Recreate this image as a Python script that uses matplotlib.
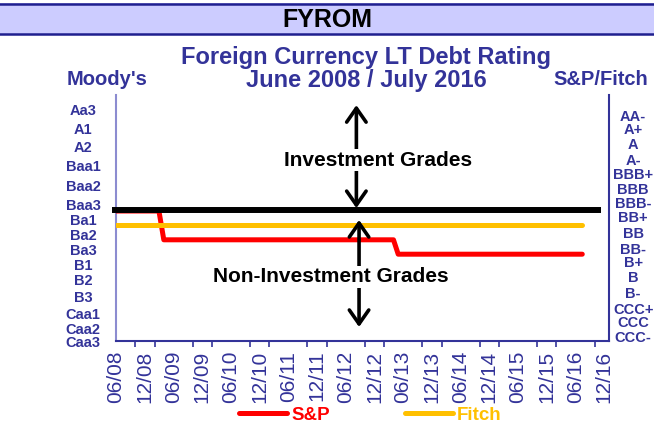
import datetime as dt
import numpy as np
import matplotlib
matplotlib.use("Agg")
import matplotlib.pyplot as plt
import matplotlib.dates as mdates
from matplotlib.lines import Line2D
from matplotlib.patches import Rectangle
from matplotlib.transforms import blended_transform_factory

plt.rcParams['font.family'] = ['Liberation Sans', 'DejaVu Sans']

NAVY = '#333399'

# rating scale (S&P / Fitch), index 0 = AAA
rating_scale = ['AAA', 'AA+', 'AA', 'AA-', 'A+', 'A', 'A-', 'BBB+', 'BBB', 'BBB-',
                'BB+', 'BB', 'BB-', 'B+', 'B', 'B-', 'CCC+', 'CCC', 'CCC-']

moodys_labels = ['Aa3', 'A1', 'A2', 'Baa1', 'Baa2', 'Baa3', 'Ba1', 'Ba2', 'Ba3',
                 'B1', 'B2', 'B3', 'Caa1', 'Caa2', 'Caa3']
sp_fitch_labels = ['AA-', 'A+', 'A', 'A-', 'BBB+', 'BBB', 'BBB-', 'BB+', 'BB', 'BB-',
                   'B+', 'B', 'B-', 'CCC+', 'CCC', 'CCC-']

sp_dates = ['2008-06-01', '2009-03-01', '2009-04-01', '2013-04-01', '2013-05-01', '2016-07-15']
sp_ratings = ['BBB-', 'BBB-', 'BB', 'BB', 'BB-', 'BB-']

fitch_dates = ['2008-06-01', '2016-07-15']
fitch_ratings = ['BB+', 'BB+']

# investment grade threshold line
threshold_dates = ['2008-05-06', '2016-11-10']
threshold_level = 8.93

# vertical spots of the side labels (in rating-scale units, as laid out in the source)
moodys_pos = [2.06, 3.36, 4.61, 5.94, 7.33, 8.65, 9.69, 10.73, 11.78, 12.84,
              13.84, 15.04, 16.22, 17.26, 18.17]
sp_fitch_pos = [2.45, 3.36, 4.41, 5.53, 6.50, 7.54, 8.51, 9.49, 10.60, 11.68,
                12.64, 13.65, 14.76, 15.85, 16.80, 17.82]


def to_dates(lst):
    return [dt.datetime.strptime(d, '%Y-%m-%d') for d in lst]


def to_level(lst):
    return [rating_scale.index(r) for r in lst]


fig = plt.figure(figsize=(6.54, 4.36), dpi=100)
ax = fig.add_axes([0.1774, 0.2179, 0.7538, 0.5642])

ax.plot(to_dates(threshold_dates), [threshold_level] * 2, color='black', lw=4.3,
        solid_capstyle='butt', zorder=4, clip_on=False)
ax.plot(to_dates(sp_dates), to_level(sp_ratings), color='#ff0000', lw=3.6,
        solid_capstyle='round', solid_joinstyle='round', label='S&P', zorder=3)
ax.plot(to_dates(fitch_dates), to_level(fitch_ratings), color='#ffc000', lw=3.6,
        solid_capstyle='round', label='Fitch', zorder=3)

ax.set_xlim(dt.datetime(2008, 6, 1), dt.datetime(2017, 1, 1))
ax.set_ylim(18.03, 0.94)
ax.set_yticks([])

ax.xaxis.set_major_locator(mdates.MonthLocator(bymonth=(6, 12)))
ax.xaxis.set_major_formatter(mdates.DateFormatter('%m/%y'))
ax.xaxis.set_minor_locator(mdates.MonthLocator(bymonth=(2, 6, 10)))
ax.tick_params(axis='x', which='major', length=0, pad=7, labelsize=15,
               labelcolor=NAVY, labelrotation=90)
ax.tick_params(axis='x', which='minor', length=4, width=1.2, direction='out', color=NAVY)

ax.spines['top'].set_visible(False)
ax.spines['left'].set_color('#8c8cd0')
ax.spines['left'].set_linewidth(1.5)
ax.spines['right'].set_color(NAVY)
ax.spines['right'].set_linewidth(1.5)
ax.spines['bottom'].set_color(NAVY)
ax.spines['bottom'].set_linewidth(1.5)

# rating labels on both sides
trans = blended_transform_factory(ax.transAxes, ax.transData)
for lab, y in zip(moodys_labels, moodys_pos):
    ax.text(-0.067, y, lab, transform=trans, ha='center', va='center',
            fontsize=10.5, fontweight='bold', color=NAVY, clip_on=False)
for lab, y in zip(sp_fitch_labels, sp_fitch_pos):
    ax.text(1.049, y, lab, transform=trans, ha='center', va='center',
            fontsize=10.5, fontweight='bold', color=NAVY, clip_on=False)

# arrows and grade annotations
arrow_props = dict(arrowstyle='<->,head_length=0.5,head_width=0.35', lw=2.6,
                   color='black', mutation_scale=20, shrinkA=0, shrinkB=0)
x_up = dt.datetime(2012, 8, 8)
x_dn = dt.datetime(2012, 8, 25)
ax.annotate('', xy=(x_up, 1.64), xytext=(x_up, 8.8), arrowprops=arrow_props, zorder=5)
ax.annotate('', xy=(x_dn, 9.62), xytext=(x_dn, 17.06), arrowprops=arrow_props, zorder=5)
ax.text(dt.datetime(2012, 12, 25), 5.46, 'Investment Grades', ha='center', va='center',
        fontsize=15, fontweight='bold', color='black', zorder=6,
        bbox=dict(facecolor='white', edgecolor='none', pad=1))
ax.text(dt.datetime(2012, 2, 25), 13.58, 'Non-Investment Grades', ha='center', va='center',
        fontsize=15, fontweight='bold', color='black', zorder=6,
        bbox=dict(facecolor='white', edgecolor='none', pad=1))

# header band
fig.add_artist(Rectangle((0, 0.922), 1, 0.071, transform=fig.transFigure,
                         facecolor='#ccccff', edgecolor='none'))
for yy in (0.923, 0.991):
    fig.add_artist(Line2D([0, 1], [yy, yy], transform=fig.transFigure,
                          color='#1f1f8f', lw=1.8))
fig.text(0.5, 0.953, 'FYROM', ha='center', va='center', fontsize=18,
         fontweight='bold', color='black')

fig.text(0.560, 0.867, 'Foreign Currency LT Debt Rating', ha='center', va='center',
         fontsize=17, fontweight='bold', color=NAVY)
fig.text(0.560, 0.816, 'June 2008 / July 2016', ha='center', va='center',
         fontsize=17, fontweight='bold', color=NAVY)
fig.text(0.164, 0.818, "Moody's", ha='center', va='center',
         fontsize=14.5, fontweight='bold', color=NAVY)
fig.text(0.846, 0.818, 'S&P/Fitch', ha='left', va='center',
         fontsize=14.5, fontweight='bold', color=NAVY)

leg = fig.legend(loc='center', bbox_to_anchor=(0.566, 0.048), ncol=2, frameon=False,
                 handlelength=2.6, handletextpad=0.2, columnspacing=4.0,
                 prop=dict(weight='bold', size=13.5))
for txt, c in zip(leg.get_texts(), ['#ff0000', '#ffc000']):
    txt.set_color(c)

fig.savefig('out.png', dpi=100, facecolor='white')
